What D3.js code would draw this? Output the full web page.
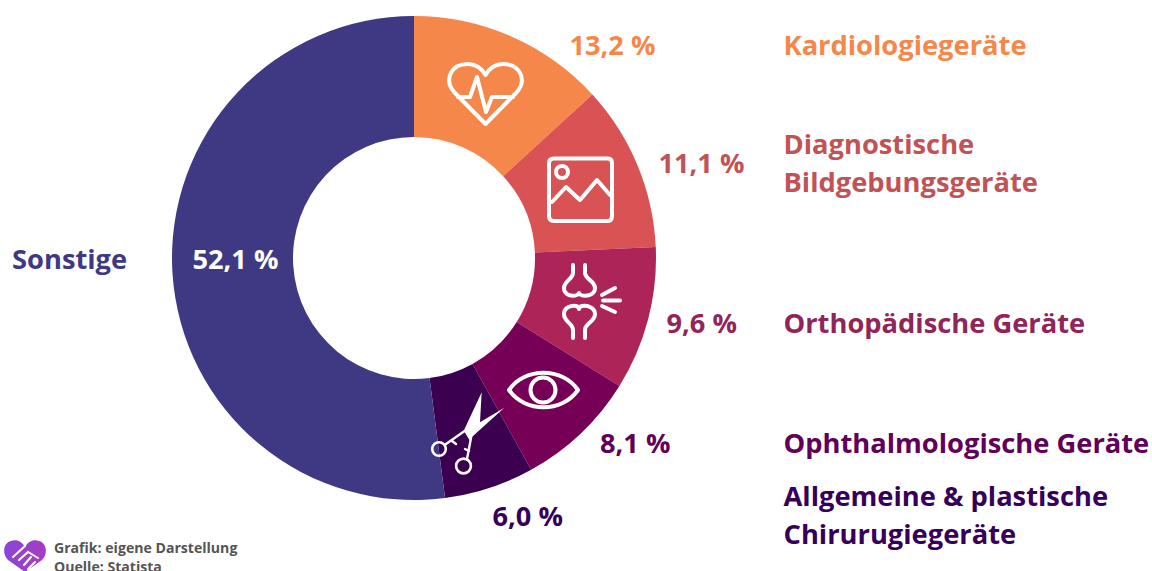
<!DOCTYPE html>
<html><head><meta charset="utf-8">
<script src="https://cdn.jsdelivr.net/npm/d3@7"></script>
<style>html,body{margin:0;padding:0;background:#fff;overflow:hidden}svg{display:block}text{font-family:"Open Sans",sans-serif;font-weight:700}</style>
</head><body><svg id="c" width="1152" height="571"></svg>
<script>
const categories=["Kardiologiegeräte","Diagnostische Bildgebungsgeräte","Orthopädische Geräte","Ophthalmologische Geräte","Allgemeine & plastische Chirurugiegeräte","Sonstige"];
const values=[13.2,11.1,9.6,8.1,6.0,52.1];
const valueLabels=["13,2 %","11,1 %","9,6 %","8,1 %","6,0 %","52,1 %"];
const colors=["#F6874B","#D95355","#AD2458","#760055","#3B0050","#3F3984"];
const textColors=["#F6874B","#BF5356","#8F2558","#600058","#36005A","#3F3984"];
const labelLines=[["Kardiologiegeräte"],["Diagnostische","Bildgebungsgeräte"],["Orthopädische Geräte"],["Ophthalmologische Geräte"],["Allgemeine & plastische","Chirurugiegeräte"],["Sonstige"]];
const labelPos=[[783.5,55],[783.5,154],[783.5,333],[783.5,453],[783.5,506],[12,269]];
const valuePos=[[569.5,55],[658.5,173],[666.5,333],[600,453],[492.5,526],[192.5,269]];
const valueFills=[textColors[0],textColors[1],textColors[2],textColors[3],textColors[4],"#fff"];
const source=["Grafik: eigene Darstellung","Quelle: Statista"];

const svg=d3.select("#c");
const pie=d3.pie().sort(null).value(d=>d)(values);
const arc=d3.arc().innerRadius(121).outerRadius(242);
svg.append("g").attr("transform","translate(414,258)").selectAll("path").data(pie).join("path")
  .attr("d",arc).attr("fill",(d,i)=>colors[i]);

svg.append("g").selectAll("text").data(valueLabels).join("text")
  .attr("x",(d,i)=>valuePos[i][0]).attr("y",(d,i)=>valuePos[i][1])
  .attr("fill",(d,i)=>valueFills[i]).attr("font-size",27.2).text(d=>d);

labelLines.forEach((lines,i)=>{
  const t=svg.append("text").attr("fill",textColors[i]).attr("font-size",27.3);
  lines.forEach((l,j)=>t.append("tspan").attr("x",labelPos[i][0]).attr("y",labelPos[i][1]+j*38).text(l));
});

const src=svg.append("text").attr("fill","#555").attr("font-size",14.1);
source.forEach((l,j)=>src.append("tspan").attr("x",54).attr("y",553+j*18.5).text(l));

// icons
const ic=svg.append("g").attr("fill","none").attr("stroke","#fff").attr("stroke-width",4).attr("stroke-linecap","round").attr("stroke-linejoin","round");
const icon=["M485.5 124L455 93C443 80 451 64 468 64C476 64 482 69 485.5 75C489 69 495 64 503 64C520 64 528 80 516 93Z",
"M458 97H470L477 77L486 112L492 97H513",
"M554 158.5H608Q612 158.5 612 163V216Q612 221 608 221H554Q549 221 549 216V163Q549 158.5 554 158.5Z",
"M552 202L566 187L580 200L597 180L610 195",
"M573 265V273C573 279 564 281 564 288C564 295 572 297 577 295Q579 294 579 293Q579 294 581 295C586 297 595 295 595 288C595 281 585 279 585 273V265",
"M573 338V330C573 323 564 322 564 314C564 307 572 305 576 306Q579 307 579 309Q579 307 582 306C586 305 595 307 595 314C595 322 585 323 585 330V338",
"M602 295L615 288","M603 300.5H620","M602 306L615 312",
"M509 390C525 367 562 367 578 390C562 413 525 413 509 390Z"];
ic.selectAll("path").data(icon).join("path").attr("d",d=>d);
ic.append("circle").attr("cx",562).attr("cy",172).attr("r",6);
ic.append("circle").attr("cx",543).attr("cy",390).attr("r",12.5);
ic.append("circle").attr("cx",439).attr("cy",449).attr("r",6.8).attr("stroke-width",2.6);
ic.append("circle").attr("cx",463.5).attr("cy",466).attr("r",7.4).attr("stroke-width",2.6);
ic.append("path").attr("stroke-width",2.4).attr("d","M466 430L446 444M471 438L467 459M452 441L456 444M465 449L469 451");
svg.append("path").attr("fill","#fff").attr("d","M481.7 392.3L480 422.3L504.3 407.7L473 436L470 441L464 431L465 428Z");

// logo
const g=svg.append("defs").append("linearGradient").attr("id","lg").attr("x1",0).attr("x2",1);
g.append("stop").attr("offset",0).attr("stop-color","#8a46d8");
g.append("stop").attr("offset",1).attr("stop-color","#a83cc0");
svg.append("path").attr("fill","url(#lg)").attr("d","M25 572L8 560C2 554 3 543 11 541C17 539 22 542 25 547C28 542 33 539 39 541C47 543 48 554 42 560Z");
svg.append("path").attr("fill","none").attr("stroke","#fff").attr("stroke-width",2).attr("stroke-linecap","round").attr("d","M13 557L25 546M19 560L28 552L38 558M24 565L31 557M28 569L35 562");
</script></body></html>
